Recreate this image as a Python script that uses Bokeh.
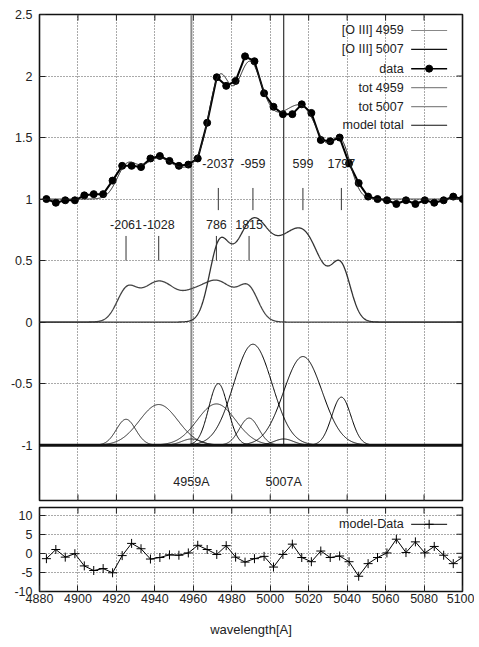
import numpy as np
from bokeh.plotting import figure
from bokeh.models import (Range1d, FixedTicker, Span, CustomJSTickFormatter)
from bokeh.layouts import column
from bokeh.core.properties import value
from bokeh.embed import file_html
from bokeh.resources import INLINE

FONT = "Liberation Sans"
FS = "12.5px"
TXT = "#222222"

# ---------------- data ----------------
wavelength = [4883.6, 4888.5, 4893.4, 4898.4, 4903.3, 4908.2, 4913.1, 4918.0, 4923.0,
              4927.9, 4932.8, 4937.7, 4942.6, 4947.6, 4952.5, 4957.4, 4962.3, 4967.2,
              4972.2, 4977.1, 4982.0, 4986.9, 4991.8, 4996.8, 5001.7, 5006.6, 5011.5,
              5016.4, 5021.4, 5026.3, 5031.2, 5036.1, 5041.0, 5046.0, 5050.9, 5055.8,
              5060.7, 5065.6, 5070.6, 5075.5, 5080.4, 5085.3, 5090.2, 5095.2, 5100.1]
flux = [1.00, 0.97, 0.99, 0.99, 1.03, 1.04, 1.04, 1.15, 1.27, 1.27, 1.26, 1.33, 1.35,
        1.31, 1.27, 1.28, 1.33, 1.62, 1.99, 1.92, 1.96, 2.16, 2.12, 1.86, 1.75, 1.69,
        1.69, 1.77, 1.70, 1.48, 1.47, 1.50, 1.29, 1.13, 1.02, 1.00, 0.99, 0.96, 0.99,
        0.96, 0.99, 0.97, 0.99, 1.02, 1.00]
residual = [-1.4, 1.0, -1.0, -0.1, -3.3, -4.5, -4.0, -5.1, -0.6, 2.6, 1.2, -1.5, -1.1,
            -0.4, -0.5, 0.1, 2.1, 1.0, -0.3, 2.0, -1.0, -2.3, -1.4, -0.8, -3.6, -0.3,
            2.4, -1.1, -2.2, 0.6, -1.1, -0.7, -2.2, -6.0, -2.7, -1.1, 0.1, 3.7, 0.2,
            3.0, 0.1, 1.8, -0.5, -2.7, -1.0]

# Gaussian components (centre [A], peak height, sigma [A])
o3_4959_center = [4925.0, 4942.0, 4959.0, 4972.0, 4989.0]
o3_4959_height = [0.21, 0.33, 0.05, 0.335, 0.22]
o3_4959_sigma = [5.0, 10.0, 5.0, 10.0, 5.0]
o3_5007_center = [4973.0, 4991.0, 5007.0, 5017.0, 5037.0]
o3_5007_height = [0.50, 0.82, 0.05, 0.72, 0.39]
o3_5007_sigma = [5.0, 10.0, 5.0, 10.0, 5.0]

continuum = 1.0
tot_offset = 0.0
comp_offset = -1.0

vel_4959_labels = ["-2061", "-1028", "786", "1815"]
vel_4959_pos = [4925.0, 4942.0, 4972.0, 4989.0]
vel_5007_labels = ["-2037", "-959", "599", "1797"]
vel_5007_pos = [4973.0, 4991.0, 5017.0, 5037.0]

line_names = ["4959A", "5007A"]
line_centers = [4959.0, 5007.0]
line_colors = ["#8a8a8a", "#333333"]

x_ticks = [4880, 4900, 4920, 4940, 4960, 4980, 5000, 5020, 5040, 5060, 5080, 5100]
y_ticks_main = [-1, -0.5, 0, 0.5, 1, 1.5, 2, 2.5]
y_ticks_res = [-10, -5, 0, 5, 10]

X0, X1 = 4880, 5100
Y1_RANGE = (-1.45, 2.5)
Y2_RANGE = (-10, 12)

# ---------------- model curves ----------------
lam = np.linspace(X0, X1, 1101)


def gauss(c, h, s):
    return h * np.exp(-0.5 * ((lam - c) / s) ** 2)


comp4959 = [gauss(c, h, s) for c, h, s in zip(o3_4959_center, o3_4959_height, o3_4959_sigma)]
comp5007 = [gauss(c, h, s) for c, h, s in zip(o3_5007_center, o3_5007_height, o3_5007_sigma)]
tot4959 = np.sum(comp4959, axis=0)
tot5007 = np.sum(comp5007, axis=0)
model_total = continuum + tot4959 + tot5007

FRAME_W = 423
BL, BR = 39, 12
xr = Range1d(X0, X1)
TICK_PX = 6


def style(p, yticks, yrange, frame_h, show_x_axis):
    p.outline_line_color = "#111111"
    p.outline_line_width = 1.6
    p.background_fill_color = "white"
    p.border_fill_color = "white"
    yax = p.yaxis[0]
    yax.ticker = FixedTicker(ticks=yticks)
    yax.formatter = CustomJSTickFormatter(code="return tick.toString()")
    axes = [yax]
    if show_x_axis:
        xax = p.xaxis[0]
        xax.ticker = FixedTicker(ticks=x_ticks)
        xax.major_label_standoff = 2
        axes.append(xax)
    else:
        p.xaxis.visible = False
    for ax in axes:
        ax.major_tick_in = TICK_PX
        ax.major_tick_out = 0
        ax.minor_tick_in = 0
        ax.minor_tick_out = 0
        ax.axis_line_color = None
        ax.major_tick_line_color = "#222222"
        ax.major_label_text_font = FONT
        ax.major_label_text_font_size = FS
        ax.major_label_text_color = TXT
    yax.major_label_standoff = 7
    p.xgrid.ticker = FixedTicker(ticks=x_ticks)
    p.ygrid.ticker = FixedTicker(ticks=yticks)
    for g in (p.xgrid[0], p.ygrid[0]):
        g.grid_line_color = "#444444"
        g.grid_line_dash = "1 2"
        g.grid_line_width = 1
        g.grid_line_alpha = 0.9
    # mirrored inward ticks (top/right, and bottom when no axis)
    dx = TICK_PX * (X1 - X0) / FRAME_W
    dy = TICK_PX * (yrange[1] - yrange[0]) / frame_h
    ytop, ybot = yrange[1], yrange[0]
    p.segment(x0=x_ticks, y0=[ytop] * len(x_ticks), x1=x_ticks, y1=[ytop - dy] * len(x_ticks),
              line_color="#222222", line_width=1)
    if not show_x_axis:
        p.segment(x0=x_ticks, y0=[ybot] * len(x_ticks), x1=x_ticks,
                  y1=[ybot + dy] * len(x_ticks), line_color="#222222", line_width=1)
    p.segment(x0=[X1] * len(yticks), y0=yticks, x1=[X1 - dx] * len(yticks), y1=yticks,
              line_color="#222222", line_width=1)


# ---------------- main panel ----------------
H1_FRAME = 486
p1 = figure(width=BL + FRAME_W + BR, height=14 + H1_FRAME + 3, x_range=xr,
            y_range=Range1d(*Y1_RANGE), output_backend="svg", toolbar_location=None,
            min_border_left=BL, min_border_right=BR, min_border_top=14, min_border_bottom=3)
style(p1, y_ticks_main, Y1_RANGE, H1_FRAME, False)

# line markers
p1.segment(x0=line_centers, y0=[comp_offset] * 2, x1=line_centers, y1=[Y1_RANGE[1]] * 2,
           line_color=line_colors, line_width=[2, 1.2])

# components
for c in comp4959:
    p1.line(lam, comp_offset + c, line_color="#222222", line_width=1)
for c in comp5007:
    p1.line(lam, comp_offset + c, line_color="#000000", line_width=1)
p1.add_layout(Span(location=comp_offset, dimension="width", line_color="#111111", line_width=3))

# totals
p1.line(lam, tot_offset + tot4959, line_color="#444444", line_width=1.3)
p1.line(lam, tot_offset + tot5007, line_color="#333333", line_width=1.3)

# data + model
p1.line(wavelength, flux, line_color="black", line_width=2)
p1.scatter(wavelength, flux, size=7, color="black")
p1.line(lam, model_total, line_color="#222222", line_width=1)

# velocity labels
tick_half = 0.09
p1.segment(x0=vel_5007_pos, y0=[continuum - tick_half] * 4, x1=vel_5007_pos,
           y1=[continuum + tick_half] * 4, line_color="#333333", line_width=1)
p1.text(x=vel_5007_pos, y=[continuum + 0.29] * 4, text=vel_5007_labels,
        text_align="center", text_baseline="middle", text_font=value(FONT),
        text_font_size=FS, text_color=TXT)
row2 = 0.6
p1.segment(x0=vel_4959_pos, y0=[row2 - 0.1] * 4, x1=vel_4959_pos,
           y1=[row2 + 0.1] * 4, line_color="#333333", line_width=1)
p1.text(x=vel_4959_pos, y=[row2 + 0.19] * 4, text=vel_4959_labels,
        text_align="center", text_baseline="middle", text_font=value(FONT),
        text_font_size=FS, text_color=TXT)

p1.text(x=line_centers, y=[-1.30] * 2, text=line_names, text_align="center",
        text_baseline="middle", text_font=value(FONT), text_font_size=FS,
        text_color=TXT)

# legend (gnuplot style: text then sample)
leg_names = ["[O III] 4959", "[O III] 5007", "data", "tot 4959", "tot 5007", "model total"]
leg_colors = ["#888888", "#111111", "#000000", "#888888", "#888888", "#111111"]
leg_widths = [1.2, 1.2, 1.5, 1.2, 1.2, 1.2]
leg_y = [2.370, 2.216, 2.060, 1.906, 1.752, 1.600]
leg_tx, leg_x0, leg_x1 = 5069.4, 5073.3, 5092.0
p1.text(x=[leg_tx] * 6, y=leg_y, text=leg_names, text_align="right", text_baseline="middle",
        text_font=value(FONT), text_font_size=FS, text_color=TXT)
p1.segment(x0=[leg_x0] * 6, y0=leg_y, x1=[leg_x1] * 6, y1=leg_y, line_color=leg_colors,
           line_width=leg_widths)
p1.scatter(x=[(leg_x0 + leg_x1) / 2], y=[leg_y[2]], size=7, color="black")

# ---------------- residual panel ----------------
H2_FRAME = 84
p2 = figure(width=BL + FRAME_W + BR, height=4 + H2_FRAME + 50, x_range=xr,
            y_range=Range1d(*Y2_RANGE), output_backend="svg", toolbar_location=None,
            min_border_left=BL, min_border_right=BR, min_border_top=4, min_border_bottom=50)
style(p2, y_ticks_res, Y2_RANGE, H2_FRAME, True)
xax2 = p2.below[0]
xax2.axis_label = "wavelength[A]"
xax2.axis_label_text_font = FONT
xax2.axis_label_text_font_size = "13px"
xax2.axis_label_text_font_style = "normal"
xax2.axis_label_text_color = TXT
xax2.axis_label_standoff = 16

p2.line(wavelength, residual, line_color="black", line_width=1)
p2.scatter(wavelength, residual, marker="cross", size=9, color="black", line_width=1)

res_leg_y = 7.6
p2.text(x=[leg_tx], y=[res_leg_y], text=["model-Data"], text_align="right",
        text_baseline="middle", text_font=value(FONT), text_font_size=FS, text_color=TXT)
p2.segment(x0=[leg_x0], y0=[res_leg_y], x1=[leg_x1], y1=[res_leg_y], line_color="black",
           line_width=1)
p2.scatter(x=[(leg_x0 + leg_x1) / 2], y=[res_leg_y], marker="cross", size=9, color="black")

layout = column(p1, p2, spacing=0)
open("out.html", "w").write(file_html(layout, INLINE))
